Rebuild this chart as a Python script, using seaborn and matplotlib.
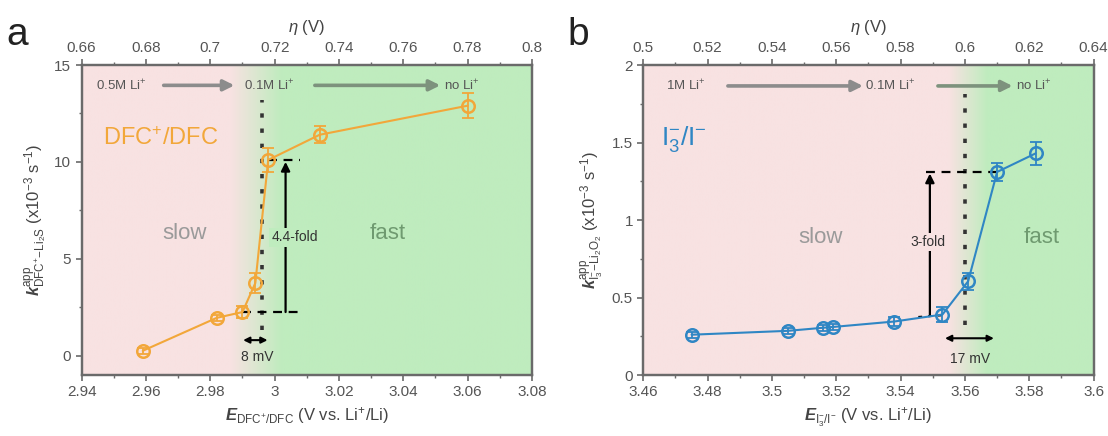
import numpy as np
import seaborn as sns
import matplotlib.pyplot as plt
from matplotlib.colors import LinearSegmentedColormap
from matplotlib.ticker import MultipleLocator, FuncFormatter

# ---------------- data ----------------
# panel a : DFC+/DFC
a_E = [2.959, 2.982, 2.990, 2.994, 2.998, 3.014, 3.060]
a_k = [0.25, 1.95, 2.25, 3.75, 10.1, 11.4, 12.9]
a_err = [0.15, 0.15, 0.3, 0.5, 0.6, 0.45, 0.65]

# panel b : I3-/I-
b_E = [3.475, 3.505, 3.516, 3.519, 3.538, 3.553, 3.561, 3.570, 3.582]
b_k = [0.26, 0.285, 0.305, 0.31, 0.345, 0.39, 0.605, 1.31, 1.43]
b_err = [0.02, 0.02, 0.02, 0.02, 0.03, 0.05, 0.055, 0.06, 0.075]

a_xlim, a_ylim, a_eta = (2.94, 3.08), (-1, 15), (0.66, 0.8)
b_xlim, b_ylim, b_eta = (3.46, 3.60), (0, 2), (0.5, 0.64)

orange = "#f2a73a"
blue = "#2f86c4"
pink = "#f8e2e2"
green = "#bfecbe"
grey_arrow = "#8c8c8c"

sns.set_theme(style="ticks")
plt.rcParams["font.family"] = ["Liberation Sans", "DejaVu Sans"]
plt.rcParams["mathtext.fontset"] = "custom"
plt.rcParams["mathtext.rm"] = "Liberation Sans"
plt.rcParams["mathtext.it"] = "Liberation Sans:italic"
plt.rcParams["mathtext.bf"] = "Liberation Sans:bold:italic"

fig = plt.figure(figsize=(11.08, 4.36), dpi=100)
axA = fig.add_axes([0.0737, 0.1399, 0.4064, 0.711])
axB = fig.add_axes([0.5806, 0.1399, 0.4064, 0.711])

bg_cmap = LinearSegmentedColormap.from_list("bg", [pink, green])


def background(ax, xlim, ylim, g0, g1):
    # pink -> green shading behind the data
    xs = np.linspace(xlim[0], xlim[1], 600)
    vals = np.clip((xs - g0) / (g1 - g0), 0, 1)[None, :]
    ax.imshow(vals, extent=[xlim[0], xlim[1], ylim[0], ylim[1]], aspect="auto",
              cmap=bg_cmap, vmin=0, vmax=1, origin="lower", zorder=0, interpolation="bilinear")


def style_axes(ax, xlim, ylim, eta, ymaj, ymin_):
    ax.set_xlim(*xlim)
    ax.set_ylim(*ylim)
    ax.xaxis.set_major_locator(MultipleLocator(0.02))
    ax.xaxis.set_minor_locator(MultipleLocator(0.01))
    ax.yaxis.set_major_locator(MultipleLocator(ymaj))
    ax.yaxis.set_minor_locator(MultipleLocator(ymin_))
    ax.xaxis.set_major_formatter(FuncFormatter(lambda v, p: "%g" % round(v, 3)))
    ax.yaxis.set_major_formatter(FuncFormatter(lambda v, p: "%g" % round(v, 3)))
    for s in ax.spines.values():
        s.set_color("#6a6a6a")
        s.set_linewidth(1.6)
        s.set_visible(True)
    ax.tick_params(which="both", direction="out", colors="#6a6a6a", labelcolor="#555555",
                   labelsize=11, top=False, right=False)
    ax.tick_params(which="major", length=4, width=1.2)
    ax.tick_params(which="minor", length=2.5, width=1)
    top = ax.twiny()
    top.set_xlim(*eta)
    top.xaxis.set_major_locator(MultipleLocator(0.02))
    top.xaxis.set_minor_locator(MultipleLocator(0.01))
    top.xaxis.set_major_formatter(FuncFormatter(lambda v, p: "%g" % round(v, 3)))
    top.tick_params(which="both", direction="out", colors="#6a6a6a", labelcolor="#555555", labelsize=11)
    top.tick_params(which="major", length=4, width=1.2)
    top.tick_params(which="minor", length=2.5, width=1)
    for s in top.spines.values():
        s.set_color("#6a6a6a")
        s.set_linewidth(1.6)
    top.set_xlabel(r"$\eta$ (V)", fontsize=12, color="#444444", labelpad=6)
    return top


def top_arrows(ax, items, arrows, y, colors):
    for x, s in items:
        ax.text(x, y, s, fontsize=9.5, color="#555555", ha="left", va="center", zorder=5)
    for (x0, x1), c in zip(arrows, colors):
        ax.annotate("", xy=(x1, y), xytext=(x0, y),
                    arrowprops=dict(arrowstyle="-|>", color=c, lw=2.6,
                                    mutation_scale=16, shrinkA=0, shrinkB=0), zorder=5)


# ---------------- panel a ----------------
background(axA, a_xlim, a_ylim, 2.986, 3.002)
axA.plot([2.996, 2.996], [1.3, 13.2], color="#333333", lw=2.6, ls=(0, (1.2, 3)), zorder=3)
axA.plot([2.990, 3.008], [2.25, 2.25], color="black", lw=1.6, ls=(0, (4, 3)), zorder=3)
axA.plot([2.998, 3.008], [10.1, 10.1], color="black", lw=1.6, ls=(0, (4, 3)), zorder=3)
axA.annotate("", xy=(3.0034, 10.0), xytext=(3.0034, 2.25),
             arrowprops=dict(arrowstyle="-|>", color="black", lw=1.6, mutation_scale=13,
                             shrinkA=0, shrinkB=0), zorder=4)
axA.text(3.0062, 6.1, "4.4-fold", fontsize=10, color="#333333", ha="center", va="center", zorder=5,
         bbox=dict(boxstyle="square,pad=0.15", fc=green, ec="none"))
axA.annotate("", xy=(2.9978, 0.8), xytext=(2.9902, 0.8),
             arrowprops=dict(arrowstyle="<|-|>", color="black", lw=1.5, mutation_scale=9,
                             shrinkA=0, shrinkB=0), zorder=4)
axA.text(2.9945, -0.05, "8 mV", fontsize=10, color="#333333", ha="center", va="center", zorder=5)

axA.errorbar(a_E, a_k, yerr=a_err, fmt="none", ecolor=orange, elinewidth=1.3, capsize=4, capthick=1.3, zorder=6)
sns.lineplot(x=a_E, y=a_k, ax=axA, color=orange, lw=1.5, marker="o", markersize=9,
             markerfacecolor="none", markeredgecolor=orange, markeredgewidth=1.8, zorder=7)

axA.text(2.9465, 11.2, "DFC$^{+}$/DFC", fontsize=17, color=orange, ha="left", va="center")
axA.text(2.972, 6.3, "slow", fontsize=16, color="#9a9a9a", ha="center", va="center")
axA.text(3.035, 6.3, "fast", fontsize=16, color="#6f9a70", ha="center", va="center")
top_arrows(axA, [(2.9445, "0.5M Li$^{+}$"), (2.9905, "0.1M Li$^{+}$"), (3.0525, "no Li$^{+}$")],
           [(2.9655, 2.9875), (3.0125, 3.0515)], 13.95, [grey_arrow, "#7d927d"])

style_axes(axA, a_xlim, a_ylim, a_eta, 5, 2.5)
axA.set_xlabel(r"$\mathbf{E}_{\mathrm{DFC^{+}/DFC}}$ (V vs. Li$^{+}$/Li)", fontsize=12, color="#444444", labelpad=4)
axA.set_ylabel(r"$\mathbf{k}^{\mathrm{app}}_{\mathrm{DFC^{+}\!-\!Li_2S}}$ (x10$^{-3}$ s$^{-1}$)", fontsize=12,
               color="#444444", labelpad=4)
fig.text(0.006, 0.92, "a", fontsize=28, color="#222222", ha="left", va="center")

# ---------------- panel b ----------------
background(axB, b_xlim, b_ylim, 3.555, 3.567)
axB.plot([3.560, 3.560], [0.32, 1.81], color="#333333", lw=2.6, ls=(0, (1.2, 3)), zorder=3)
axB.plot([3.548, 3.570], [1.31, 1.31], color="black", lw=1.6, ls=(0, (4, 3)), zorder=3)
axB.plot([3.5455, 3.553], [0.375, 0.385], color="black", lw=1.4, ls=(0, (2, 3)), zorder=3)
axB.annotate("", xy=(3.5491, 1.30), xytext=(3.5491, 0.38),
             arrowprops=dict(arrowstyle="-|>", color="black", lw=1.6, mutation_scale=13,
                             shrinkA=0, shrinkB=0), zorder=4)
axB.text(3.5485, 0.86, "3-fold", fontsize=10, color="#333333", ha="center", va="center", zorder=5,
         bbox=dict(boxstyle="square,pad=0.15", fc=pink, ec="none"))
axB.annotate("", xy=(3.569, 0.237), xytext=(3.5538, 0.237),
             arrowprops=dict(arrowstyle="<|-|>", color="black", lw=1.5, mutation_scale=9,
                             shrinkA=0, shrinkB=0), zorder=4)
axB.text(3.5615, 0.105, "17 mV", fontsize=10, color="#333333", ha="center", va="center", zorder=5)

axB.errorbar(b_E, b_k, yerr=b_err, fmt="none", ecolor=blue, elinewidth=1.3, capsize=4, capthick=1.3, zorder=6)
sns.lineplot(x=b_E, y=b_k, ax=axB, color=blue, lw=1.5, marker="o", markersize=9,
             markerfacecolor="none", markeredgecolor=blue, markeredgewidth=1.8, zorder=7)

axB.text(3.4655, 1.52, r"I$_3^{-}$/I$^{-}$", fontsize=19, color=blue, ha="left", va="center")
axB.text(3.515, 0.886, "slow", fontsize=16, color="#9a9a9a", ha="center", va="center")
axB.text(3.584, 0.886, "fast", fontsize=16, color="#6f9a70", ha="center", va="center")
top_arrows(axB, [(3.467, "1M Li$^{+}$"), (3.529, "0.1M Li$^{+}$"), (3.576, "no Li$^{+}$")],
           [(3.4863, 3.5283), (3.5516, 3.5748)], 1.865, [grey_arrow, "#7d927d"])

style_axes(axB, b_xlim, b_ylim, b_eta, 0.5, 0.25)
axB.set_xlabel(r"$\mathbf{E}_{\mathrm{I_3^{-}/I^{-}}}$ (V vs. Li$^{+}$/Li)", fontsize=12, color="#444444", labelpad=4)
axB.set_ylabel(r"$\mathbf{k}^{\mathrm{app}}_{\mathrm{I_3^{-}\!-\!Li_2O_2}}$ (x10$^{-3}$ s$^{-1}$)", fontsize=12,
               color="#444444", labelpad=4)
fig.text(0.512, 0.92, "b", fontsize=28, color="#222222", ha="left", va="center")

fig.savefig("out.png", dpi=100)
